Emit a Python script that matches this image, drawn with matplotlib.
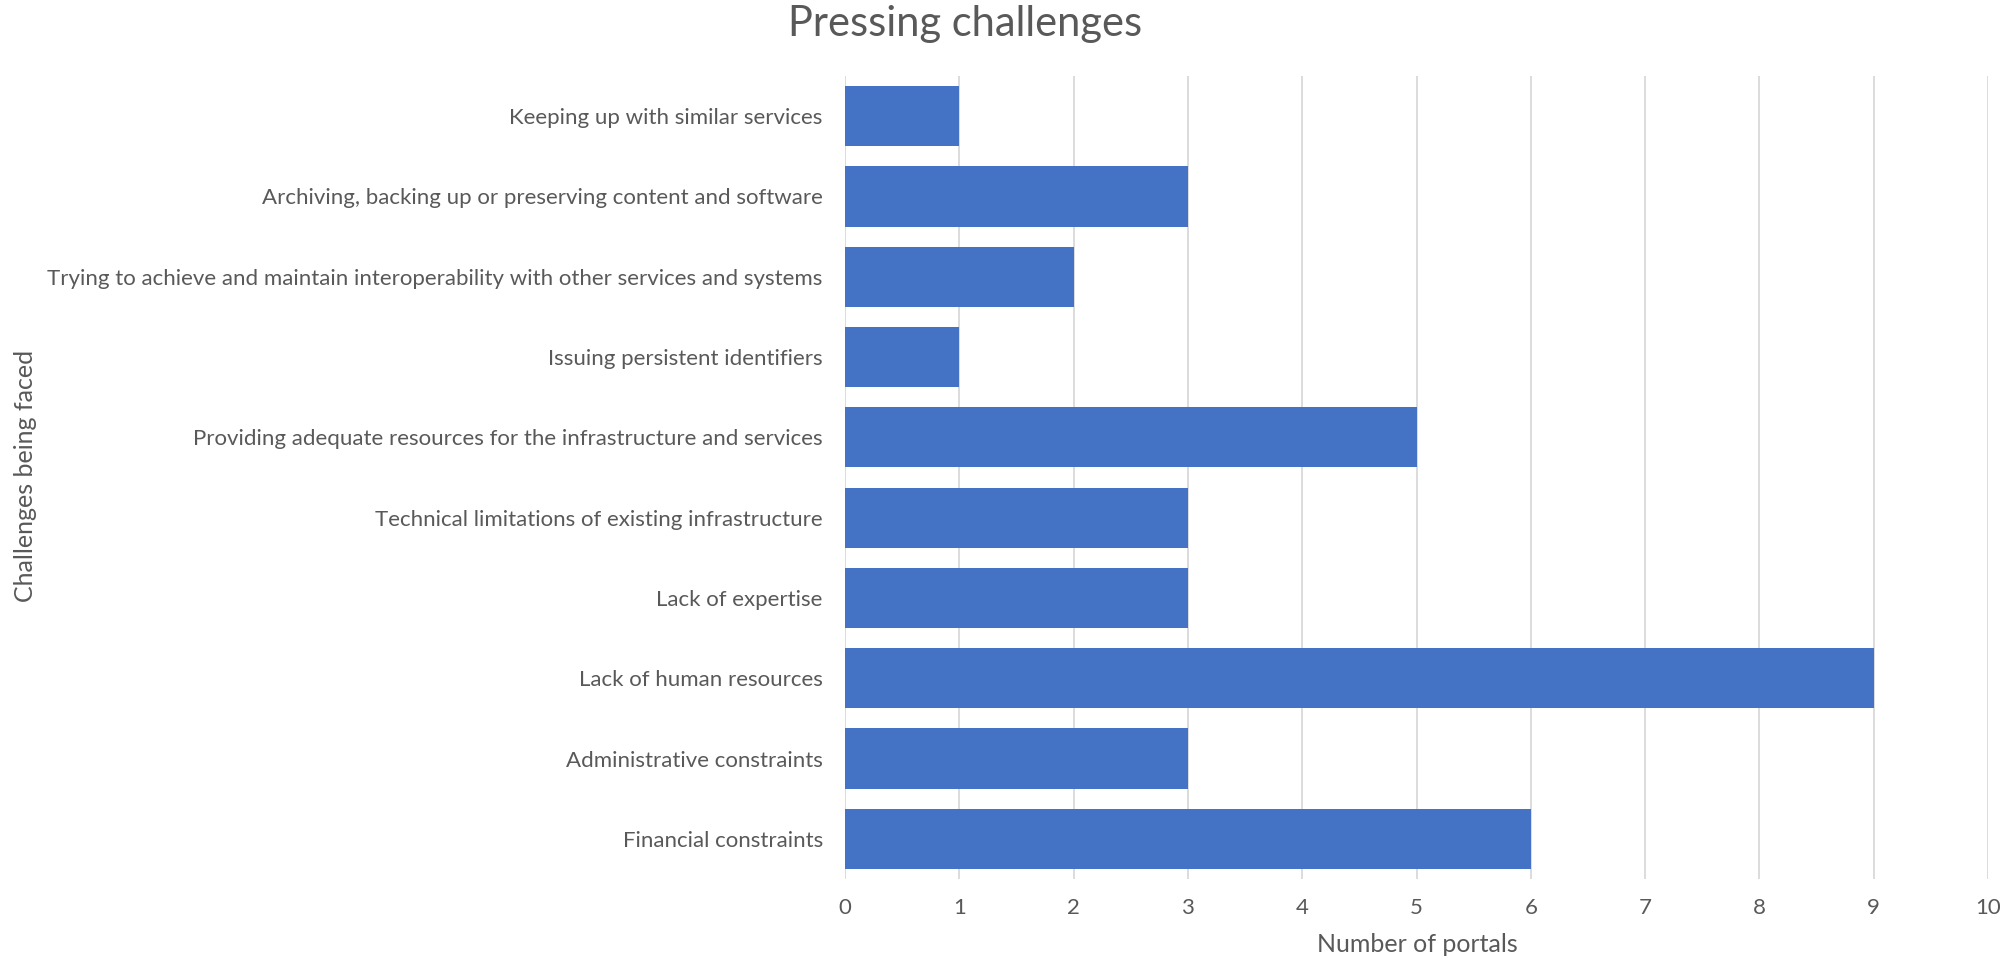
import matplotlib.pyplot as plt

categories = [
    "Financial constraints",
    "Administrative constraints",
    "Lack of human resources",
    "Lack of expertise",
    "Technical limitations of existing infrastructure",
    "Providing adequate resources for the infrastructure and services",
    "Issuing persistent identifiers",
    "Trying to achieve and maintain interoperability with other services and systems",
    "Archiving, backing up or preserving content and software",
    "Keeping up with similar services",
]
values = [6, 3, 9, 3, 3, 5, 1, 2, 3, 1]
x_ticks = list(range(0, 11))

plt.rcParams['font.family'] = ['Lato', 'DejaVu Sans']
text_col = '#595959'

fig = plt.figure(figsize=(20.14, 9.61), dpi=100)
ax = fig.add_axes([845 / 2014, 1 - 879 / 961, (1988 - 845) / 2014, (879 - 76) / 961])

ax.barh(range(len(categories)), values, height=0.75, color='#4472C4', zorder=3)
ax.set_ylim(-0.5, len(categories) - 0.5)
ax.set_xlim(0, 10)
ax.set_xticks(x_ticks)
ax.set_yticks(range(len(categories)))
ax.set_yticklabels(categories)

ax.grid(axis='x', color='#D9D9D9', linewidth=1.3, zorder=0)
ax.grid(axis='y', visible=False)
for s in ax.spines.values():
    s.set_visible(False)
ax.tick_params(axis='both', length=0, labelsize=16, colors=text_col)
ax.tick_params(axis='x', pad=14)
ax.tick_params(axis='y', pad=16)

fig.text(1417 / 2014, 1 - 944 / 961, "Number of portals", ha='center', va='center',
         fontsize=18, color=text_col)
fig.text(26 / 2014, 1 - 476 / 961, "Challenges being faced", rotation=90,
         ha='center', va='center', fontsize=18, color=text_col)
fig.text(965 / 2014, 1 - 24 / 961, "Pressing challenges", ha='center', va='center',
         fontsize=30, color=text_col)

fig.savefig("out.png", dpi=100)
